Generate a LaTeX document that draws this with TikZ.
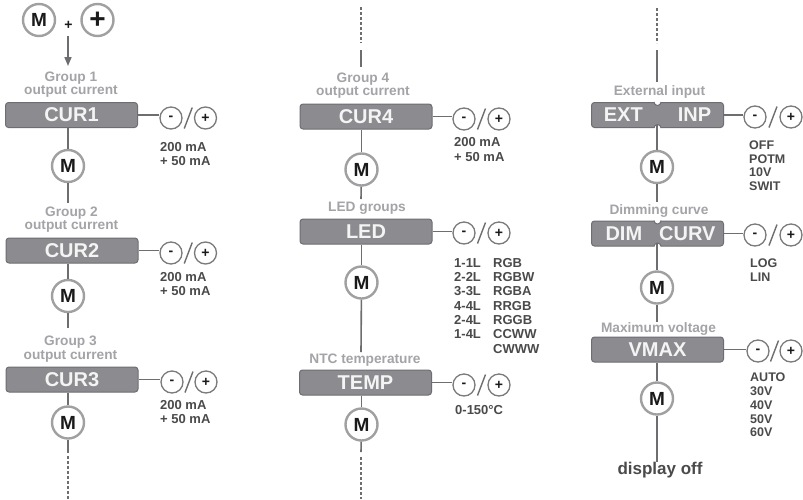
\documentclass[tikz,border=0pt]{standalone}
\usepackage{fontspec}
\setmainfont{Liberation Sans}
\usetikzlibrary{arrows.meta,calc}
\definecolor{boxfill}{HTML}{8C8C90}
\definecolor{boxedge}{HTML}{6E6E72}
\definecolor{boxtext}{HTML}{F4F4F4}
\definecolor{lblgray}{HTML}{A4A4A8}
\definecolor{valgray}{HTML}{4A4A4C}
\definecolor{cline}{HTML}{6E6E70}
\definecolor{mline}{HTML}{A0A0A2}
\definecolor{pmline}{HTML}{7A7A7C}
\definecolor{ink}{HTML}{1A1A1A}
\newcommand\mypm[4]{%
  \node[pmc] (#1m) at (#2,#4) {-};
  \node[pmc] (#1p) at (#3,#4) {+};
  \draw[slashline] ($(#1m)!0.5!(#1p)+(-4,10.5)$) -- ($(#1m)!0.5!(#1p)+(4,-10.5)$);
}
\newcommand\mynotch[1]{%
  \fill[white] (#1.north) circle (3.5);
  \draw[draw=boxedge, line width=1pt] ($(#1.north)+(-3.5,0)$) arc[start angle=180, end angle=0, radius=3.5];
  \fill[white] (#1.south) circle (3.5);
  \draw[draw=boxedge, line width=1pt] ($(#1.south)+(-3.5,0)$) arc[start angle=180, end angle=360, radius=3.5];
}
\begin{document}
\begin{tikzpicture}[x=1pt,y=-1pt,
  panel/.style={draw=boxedge, fill=boxfill, line width=1pt, rounded corners=3pt,
    minimum width=132pt, minimum height=25pt, inner sep=0pt, text=boxtext,
    font=\bfseries\fontsize{20}{20}\selectfont},
  mc/.style={circle, draw=mline, fill=white, line width=2.4pt, minimum size=32pt,
    inner sep=0pt, text=ink, font=\bfseries\fontsize{19}{19}\selectfont},
  pmc/.style={circle, draw=pmline, fill=white, line width=1.3pt, minimum size=22pt,
    inner sep=0pt, text=ink, font=\bfseries\fontsize{14}{14}\selectfont},
  lbl/.style={text=lblgray, font=\bfseries\fontsize{13.7}{13.3}\selectfont, align=center, inner sep=0pt},
  val/.style={text=valgray, font=\bfseries\fontsize{13}{14.5}\selectfont, align=left,
    anchor=north west, inner sep=0pt},
  conn/.style={draw=cline, line width=1.6pt},
  dotline/.style={draw=cline, line width=1.6pt, dash pattern=on 2.5pt off 2.5pt},
  slashline/.style={draw=cline, line width=1.4pt}
]
\useasboundingbox[fill=white] (0,0) rectangle (803,499);

% ---------- top
\node[mc] (mtop) at (39,20) {M};
\node[mc, font=\bfseries\fontsize{28}{28}\selectfont] (ptop) at (97.5,20) {+};
\node[text=ink, font=\bfseries\fontsize{14}{14}\selectfont, inner sep=0pt] (plus) at (68.5,25.5) {+};
\coordinate (a0) at (68,36);
\coordinate (a1) at (68,66);
\draw[conn, -{Triangle[length=9pt,width=7pt]}] (a0) -- (a1);

% ---------- column 1
\node[lbl] (g1) at (71,84.5) {Group 1\\output current};
\node[panel] (c1) at (71.5,115) {CUR1};
\mypm{q1}{171}{205.5}{118}
\draw[conn] (c1.east) -- (c1.east -| q1m.west);
\node[val] (v1) at (160,142) {200 mA\\+ 50 mA};
\node[mc] (m1) at (68,166) {M};
\draw[conn] (m1.north |- c1.south) -- (m1.north);
\coordinate (e1) at (68,203);
\draw[conn] (m1) -- (e1);

\node[lbl] (g2) at (71.5,219.5) {Group 2\\output current};
\node[panel] (c2) at (72,250.5) {CUR2};
\mypm{q2}{171}{205.5}{253}
\draw[conn] (c2.east) -- (c2.east -| q2m.west);
\node[val] (v2) at (160,272) {200 mA\\+ 50 mA};
\node[mc] (m2) at (68,296) {M};
\draw[conn] (m2.north |- c2.south) -- (m2.north);
\coordinate (e2) at (68,328);
\draw[conn] (m2) -- (e2);

\node[lbl] (g3) at (70.5,349) {Group 3\\output current};
\node[panel] (c3) at (72,379.5) {CUR3};
\mypm{q3}{172}{206}{382}
\draw[conn] (c3.east) -- (c3.east -| q3m.west);
\node[val] (v3) at (160,400) {200 mA\\+ 50 mA};
\node[mc] (m3) at (68,422.5) {M};
\draw[conn] (m3.north |- c3.south) -- (m3.north);
\coordinate (e3) at (68,453);
\draw[conn] (m3) -- (e3);
\coordinate (d3a) at (68,456);
\coordinate (d3b) at (68,499);
\draw[dotline] (d3a) -- (d3b);

% ---------- column 2
\coordinate (t2a) at (361,7);
\coordinate (t2b) at (361,43);
\draw[dotline] (t2a) -- (t2b);
\coordinate (t2c) at (361,50);
\coordinate (t2d) at (361,67);
\draw[conn] (t2c) -- (t2d);

\node[lbl] (g4) at (363,85.5) {Group 4\\output current};
\node[panel] (c4) at (366,116.5) {CUR4};
\mypm{q4}{464}{499}{119}
\draw[conn] (c4.east) -- (c4.east -| q4m.west);
\node[val, font=\bfseries\fontsize{13}{15}\selectfont] (v4) at (454,137) {200 mA\\+ 50 mA};
\node[mc] (m4) at (361.5,169.5) {M};
\draw[conn] (m4.north |- c4.south) -- (m4.north);
\coordinate (e4) at (361,199);
\draw[conn] (m4) -- (e4);

\node[lbl] (g5) at (367,208) {LED groups};
\node[panel] (c5) at (366,231.5) {LED};
\mypm{q5}{464}{499}{233}
\draw[conn] (c5.east) -- (c5.east -| q5m.west);
\node[val, font=\bfseries\fontsize{13}{14.3}\selectfont] (v5a) at (454,258) {1-1L\\2-2L\\3-3L\\4-4L\\2-4L\\1-4L};
\node[val, font=\bfseries\fontsize{13}{14.3}\selectfont] (v5b) at (493,258) {RGB\\RGBW\\RGBA\\RRGB\\RGGB\\CCWW\\CWWW};
\node[mc] (m5) at (361.5,282.5) {M};
\draw[conn] (m5.north |- c5.south) -- (m5.north);
\coordinate (e5) at (361,352);
\draw[conn] (m5) -- (e5);

\node[lbl] (g6) at (365,360) {NTC temperature};
\node[panel] (c6) at (365.5,382.5) {TEMP};
\mypm{q6}{464}{499}{385}
\draw[conn] (c6.east) -- (c6.east -| q6m.west);
\node[val] (v6) at (455,405) {0-150°C};
\node[mc] (m6) at (361.5,424.5) {M};
\draw[conn] (m6.north |- c6.south) -- (m6.north);
\coordinate (e6) at (361,452);
\draw[conn] (m6) -- (e6);
\coordinate (d6a) at (361,457);
\coordinate (d6b) at (361,499);
\draw[dotline] (d6a) -- (d6b);

% ---------- column 3
\coordinate (t3a) at (657,8);
\coordinate (t3b) at (657,43);
\draw[dotline] (t3a) -- (t3b);
\coordinate (t3c) at (657,50);
\coordinate (t3d) at (657,82);
\draw[conn] (t3c) -- (t3d);

\node[lbl] (g7) at (659.5,92) {External input};
\node[panel] (c7) at (657.5,115) {EXT\hspace{35pt}INP};
\mynotch{c7}
\mypm{q7}{755}{791}{117}
\draw[conn] (c7.east) -- (c7.east -| q7m.west);
\node[val, font=\bfseries\fontsize{12.5}{13.5}\selectfont] (v7) at (749,141) {OFF\\POTM\\10V\\SWIT};
\node[mc] (m7) at (657,167) {M};
\draw[conn] ($(m7.north |- c7.south)+(0,-3.5)$) -- (m7.north);
\coordinate (e7) at (657,202);
\draw[conn] (m7) -- (e7);

\node[lbl] (g8) at (659,211) {Dimming curve};
\node[panel] (c8) at (657.5,233.5) {\hspace{6pt}DIM\hspace{17pt}CURV};
\mynotch{c8}
\mypm{q8}{755}{791}{235}
\draw[conn] (c8.east) -- (c8.east -| q8m.west);
\node[val, font=\bfseries\fontsize{12.5}{14}\selectfont] (v8) at (750,259) {LOG\\LIN};
\node[mc] (m8) at (657,287.5) {M};
\draw[conn] ($(m8.north |- c8.south)+(0,-3.5)$) -- (m8.north);
\coordinate (e8) at (657,322);
\draw[conn] (m8) -- (e8);

\node[lbl] (g9) at (658.5,329) {Maximum voltage};
\node[panel] (c9) at (657.5,349.5) {VMAX};
\mypm{q9}{758}{791}{351}
\draw[conn] (c9.east) -- (c9.east -| q9m.west);
\node[val, font=\bfseries\fontsize{12.5}{13.7}\selectfont] (v9) at (750,373) {AUTO\\30V\\40V\\50V\\60V};
\node[mc] (m9) at (657,398.5) {M};
\draw[conn] (m9.north |- c9.south) -- (m9.north);
\node[text=valgray, font=\bfseries\fontsize{17}{17}\selectfont, inner sep=0pt] (off) at (660,470) {display off};
\draw[conn] (m9) -- (off.north -| m9.south);
\end{tikzpicture}
\end{document}
